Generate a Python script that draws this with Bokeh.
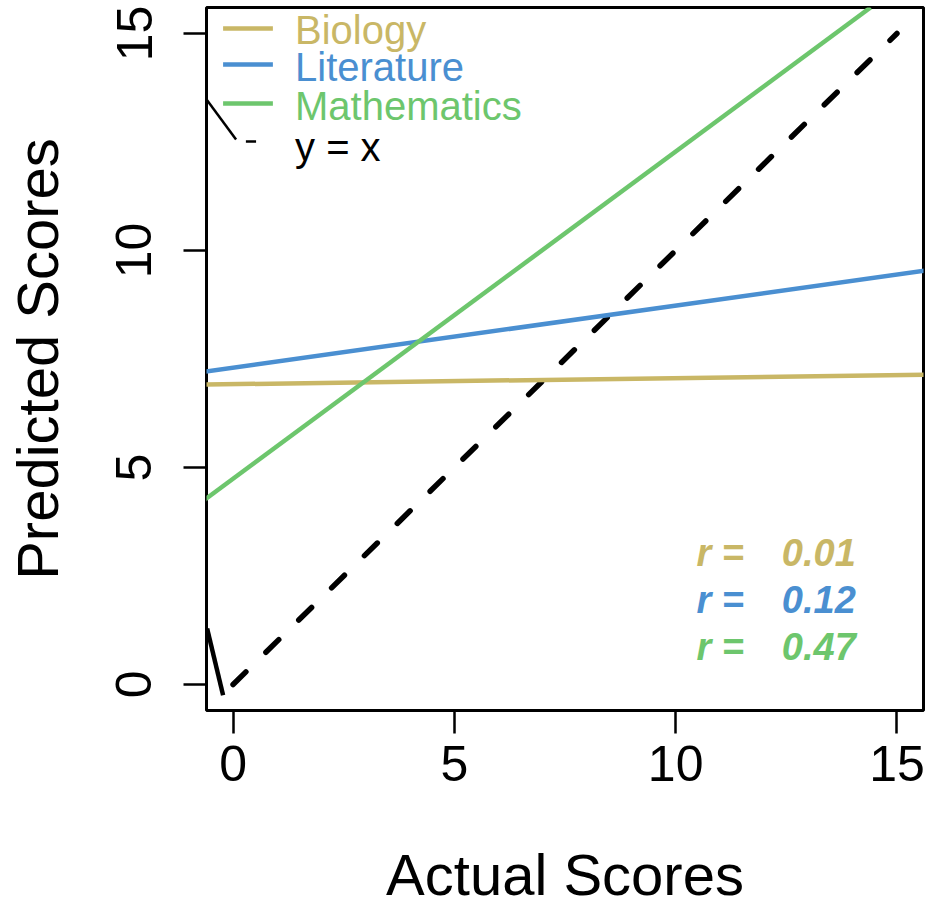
from bokeh.plotting import figure
from bokeh.models import Range1d, FixedTicker, Slope
from bokeh.embed import file_html
from bokeh.resources import INLINE
from bokeh.core.properties import value

# ---- data ----
subjects = ["Biology", "Literature", "Mathematics"]
intercepts = [6.92, 7.30, 4.74]
slopes = [0.014, 0.143, 0.754]
r_values = ["0.01", "0.12", "0.47"]
colors = ["#C9B766", "#4A8FD1", "#6DC66D"]
identity_x = [0, 15]
identity_y = [0, 15]
ticks = [0, 5, 10, 15]

# stray solid strokes visible in the reference
stray_x0 = [-0.586, -0.586]
stray_y0 = [13.46, 1.29]
stray_x1 = [0.068, -0.225]
stray_y1 = [12.56, -0.25]
stray_w = [2.5, 4.5]

FONT = "Liberation Sans"

p = figure(width=933, height=910, output_backend="svg", toolbar_location=None,
           x_range=Range1d(-0.6, 15.6), y_range=Range1d(-0.6, 15.6),
           min_border_left=206, min_border_right=10, min_border_top=7,
           min_border_bottom=200,
           x_axis_label="Actual Scores", y_axis_label="Predicted Scores")
p.grid.visible = False
p.outline_line_color = "black"
p.outline_line_width = 3
p.background_fill_color = "white"
p.border_fill_color = "white"

for ax in (p.xaxis[0], p.yaxis[0]):
    ax.ticker = FixedTicker(ticks=ticks)
    ax.axis_line_color = None
    ax.major_tick_out = 23
    ax.major_tick_in = 0
    ax.major_tick_line_width = 2.5
    ax.major_tick_line_color = "black"
    ax.minor_tick_line_color = None
    ax.major_label_text_font = FONT
    ax.major_label_text_font_size = "50px"
    ax.major_label_text_color = "black"
    ax.axis_label_text_font = FONT
    ax.axis_label_text_font_size = "58px"
    ax.axis_label_text_font_style = "normal"
    ax.axis_label_text_color = "black"
p.xaxis.major_label_standoff = 12
p.yaxis.major_label_standoff = 32
p.yaxis.major_label_orientation = "vertical"
p.xaxis.axis_label_standoff = 58
p.yaxis.axis_label_standoff = 44

# fitted lines
for b, m, c in zip(intercepts, slopes, colors):
    p.add_layout(Slope(gradient=m, y_intercept=b, line_color=c, line_width=4.5))

# y = x dashed
p.line(identity_x, identity_y, line_color="black", line_width=5.5,
       line_dash="18 28", line_cap="round")

# stray strokes
p.segment(x0=stray_x0, y0=stray_y0, x1=stray_x1, y1=stray_y1,
          line_color="black", line_width=stray_w)
p.segment(x0=[0.29], y0=[12.51], x1=[0.52], y1=[12.51], line_color="black", line_width=2.5)

# legend
leg_line_y = [15.115, 14.286, 13.387]
p.segment(x0=[-0.225] * 3, y0=leg_line_y, x1=[0.90] * 3, y1=leg_line_y,
          line_color=colors, line_width=4.5)
p.text(x=[1.40] * 4, y=[15.07, 14.22, 13.34, 12.38], text=subjects + ["y = x"],
       text_color=colors + ["black"], text_font=value(FONT), text_font_size="40px",
       text_baseline="alphabetic", text_align="left")

# r annotations
r_y = [3.04, 1.95, 0.87]
p.text(x=[10.47] * 3, y=r_y, text=["r ="] * 3, text_color=colors,
       text_font=value(FONT), text_font_size="38px", text_font_style="bold italic",
       text_baseline="alphabetic", text_align="left")
p.text(x=[12.40] * 3, y=r_y, text=r_values, text_color=colors,
       text_font=value(FONT), text_font_size="38px", text_font_style="bold italic",
       text_baseline="alphabetic", text_align="left")

open("out.html", "w").write(file_html(p, INLINE))
